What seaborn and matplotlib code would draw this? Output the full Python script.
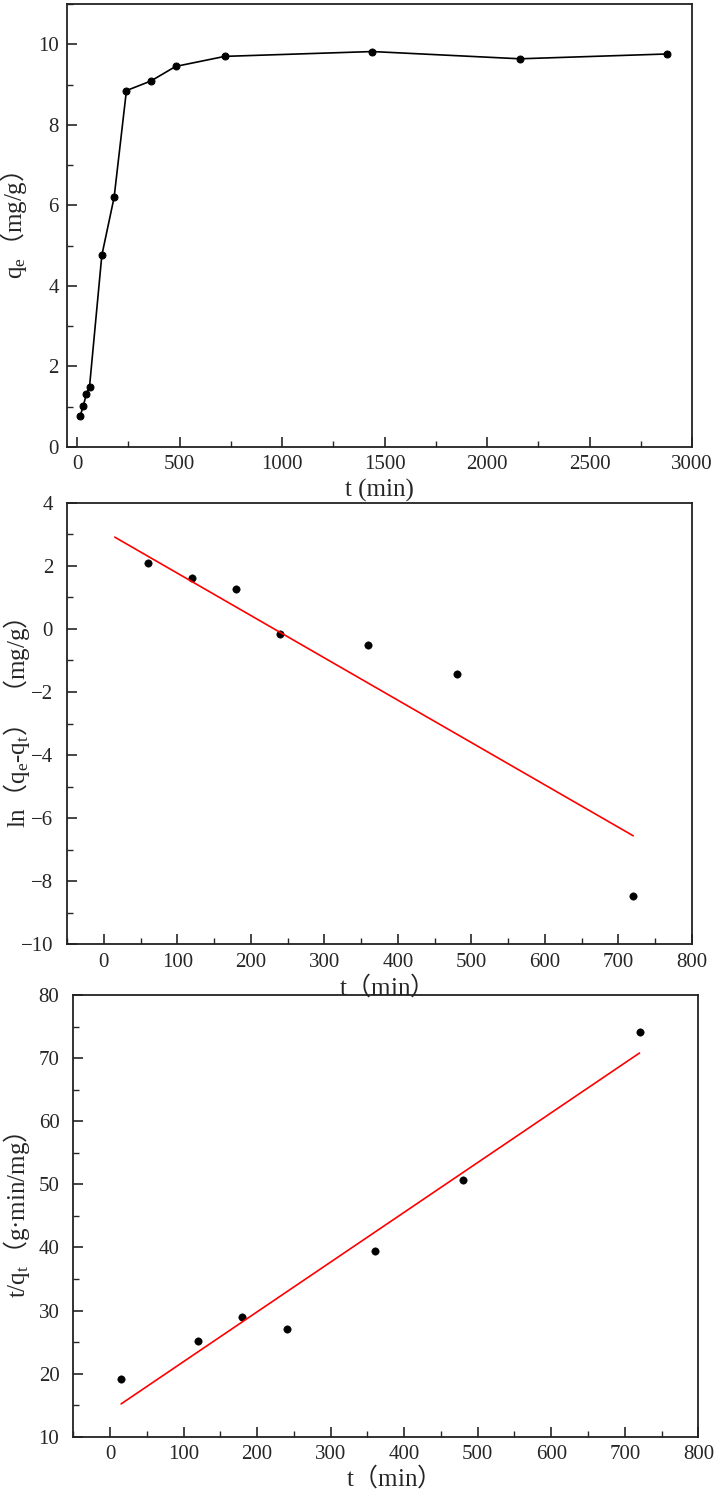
import numpy as np
import seaborn as sns
import matplotlib.pyplot as plt
from matplotlib.ticker import MultipleLocator

sns.set_style("ticks")
plt.rcParams['font.family'] = ['Liberation Serif', 'Noto Sans CJK SC']
plt.rcParams['mathtext.fontset'] = 'custom'
plt.rcParams['mathtext.rm'] = 'Liberation Serif'
plt.rcParams['mathtext.it'] = 'Liberation Serif:italic'
# full-width brackets come from the CJK font inside mathtext
plt.rcParams['mathtext.sf'] = 'Noto Sans CJK SC'
plt.rcParams['axes.unicode_minus'] = True

# adsorption kinetics, q_e vs t
t_all = [15, 30, 45, 60, 120, 180, 240, 360, 480, 720, 1440, 2160, 2880]
qe_all = [0.78, 1.03, 1.32, 1.50, 4.76, 6.20, 8.85, 9.09, 9.45, 9.70, 9.82, 9.64, 9.76]

# pseudo-first-order
t_pfo = [60, 120, 180, 240, 360, 480, 720]
ln_pfo = [2.10, 1.60, 1.25, -0.17, -0.50, -1.42, -8.48]
fit_pfo_t = [15, 720]
fit_pfo_y = [2.91, -6.56]

# pseudo-second-order
t_pso = [15, 120, 180, 240, 360, 480, 720]
tq_pso = [19.1, 25.2, 28.9, 27.1, 39.5, 50.7, 74.2]
fit_pso_t = [15, 720]
fit_pso_y = [15.2, 70.8]

L = r'$\mathsf{（}$'
R = r'$\mathsf{）}$'

fig = plt.figure(figsize=(7.18, 14.91), dpi=100)
ax1 = fig.add_axes([0.0933, 0.7002, 0.8705, 0.2971])
ax2 = fig.add_axes([0.0933, 0.3667, 0.8705, 0.2961])
ax3 = fig.add_axes([0.1021, 0.0364, 0.8705, 0.2963])

sns.lineplot(x=t_all, y=qe_all, color='black', linewidth=1.2, marker='o',
             markersize=5, markeredgecolor='black', ax=ax1)
ax1.set_xlim(-50, 3000)
ax1.set_ylim(0, 11)
ax1.xaxis.set_major_locator(MultipleLocator(500))
ax1.xaxis.set_minor_locator(MultipleLocator(250))
ax1.yaxis.set_major_locator(MultipleLocator(2))
ax1.yaxis.set_minor_locator(MultipleLocator(1))
ax1.set_xlabel('t (min)', labelpad=3)
ax1.set_ylabel('q$_\\mathrm{e}$' + L + 'mg/g' + R)
ax1.yaxis.set_label_coords(-0.061, 0.5)

sns.scatterplot(x=t_pfo, y=ln_pfo, color='black', s=28, edgecolor='black', ax=ax2)
sns.lineplot(x=fit_pfo_t, y=fit_pfo_y, color='red', linewidth=1.2, ax=ax2)
ax2.set_xlim(-50, 800)
ax2.set_ylim(-10, 4)
ax2.xaxis.set_major_locator(MultipleLocator(100))
ax2.xaxis.set_minor_locator(MultipleLocator(50))
ax2.yaxis.set_major_locator(MultipleLocator(2))
ax2.yaxis.set_minor_locator(MultipleLocator(1))
ax2.set_xlabel('t' + L + 'min' + R, labelpad=0)
ax2.set_ylabel('ln' + L + 'q$_\\mathrm{e}$-q$_\\mathrm{t}$' + R + ' ' + L + 'mg/g' + R)
ax2.yaxis.set_label_coords(-0.056, 0.5)

sns.scatterplot(x=t_pso, y=tq_pso, color='black', s=28, edgecolor='black', ax=ax3)
sns.lineplot(x=fit_pso_t, y=fit_pso_y, color='red', linewidth=1.2, ax=ax3)
ax3.set_xlim(-50, 800)
ax3.set_ylim(10, 80)
ax3.xaxis.set_major_locator(MultipleLocator(100))
ax3.xaxis.set_minor_locator(MultipleLocator(50))
ax3.yaxis.set_major_locator(MultipleLocator(10))
ax3.yaxis.set_minor_locator(MultipleLocator(5))
ax3.set_xlabel('t' + L + 'min' + R, labelpad=-1)
ax3.set_ylabel('t/q$_\\mathrm{t}$' + L + 'g·min/mg' + R)
ax3.yaxis.set_label_coords(-0.066, 0.5)
# keep the middle panel's x label visible above this one
ax3.patch.set_alpha(0)

for ax in (ax1, ax2, ax3):
    for sp in ax.spines.values():
        sp.set_linewidth(1.3)
        sp.set_color('#222222')
    ax.tick_params(which='major', direction='in', length=7, width=1.2,
                   labelsize=15, top=False, right=False, pad=6)
    ax.tick_params(which='minor', direction='in', length=4, width=1.0,
                   top=False, right=False)
    ax.xaxis.label.set_size(18)
    ax.yaxis.label.set_size(18)
    ax.grid(False)

ax2.tick_params(which='major', axis='y', pad=10)
ax3.tick_params(which='major', axis='y', pad=10)

fig.savefig('out.png', dpi=100)
